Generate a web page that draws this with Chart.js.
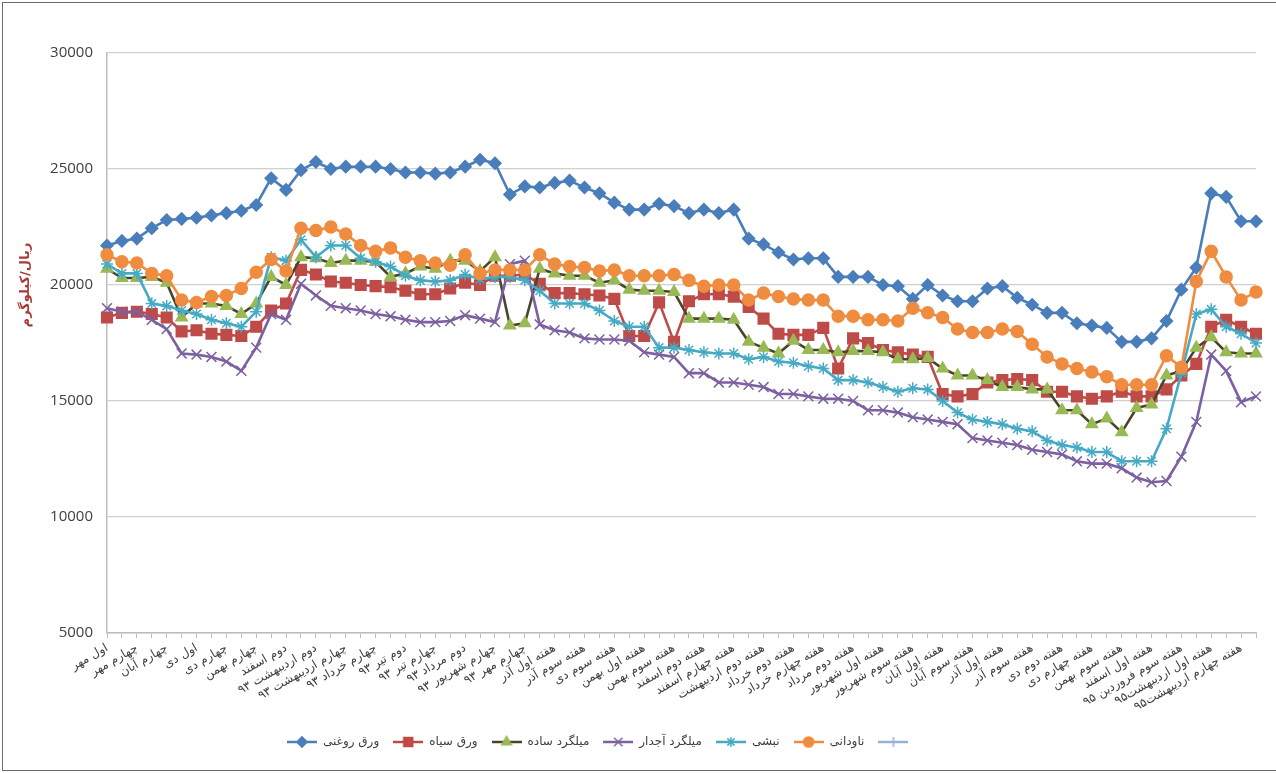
<!DOCTYPE html>
<html>
<head>
<meta charset="utf-8">
<script src="https://cdn.jsdelivr.net/npm/chart.js@4.4.1/dist/chart.umd.min.js"></script>
<style>
  html, body { margin: 0; padding: 0; background: #fff; }
  #wrap  { position: relative; width: 1276px; height: 773px; overflow: hidden; }
  #chart { position: absolute; left: 0; top: 0; }
  #frame { position: absolute; left: 2px; top: 2px; width: 1300px; height: 767px; border: 1px solid #6b6b6b; pointer-events: none; }
</style>
</head>
<body>
<div id="wrap">
  <canvas id="chart" width="1276" height="773"></canvas>
  <div id="frame"></div>
</div>
<script>
// ── داده‌ها ────────────────────────────────────────────────
// برچسب‌های نمایش داده شده (هر دو دسته یکی)
const SHOWN_LABELS = [
  'اول مهر', 'چهارم مهر', 'چهارم آبان', 'اول دی', 'چهارم دی',
  'چهارم بهمن', 'دوم اسفند', 'دوم اردیبهشت ۹۳', 'چهارم اردیبهشت ۹۳',
  'چهارم خرداد ۹۳', 'دوم تیر ۹۳', 'چهارم تیر ۹۳', 'دوم مرداد ۹۳',
  'چهارم شهریور ۹۳', 'چهارم مهر ۹۳', 'هفته اول آذر', 'هفته سوم آذر',
  'هفته سوم دی', 'هفته اول بهمن', 'هفته سوم بهمن', 'هفته دوم اسفند',
  'هفته چهارم اسفند', 'هفته دوم اردیبهشت', 'هفته دوم خرداد', 'هفته چهارم خرداد',
  'هفته دوم مرداد', 'هفته اول شهریور', 'هفته سوم شهریور', 'هفته اول آبان',
  'هفته سوم آبان', 'هفته اول آذر', 'هفته سوم آذر', 'هفته دوم دی',
  'هفته چهارم دی', 'هفته سوم بهمن', 'هفته اول اسفند', 'هفته سوم فروردین ۹۵',
  'هفته اول اردیبهشت۹۵', 'هفته چهارم اردیبهشت۹۵',
];
const N_POINTS = 78;

const WARAQ_ROGHANI = [
  21700, 21900, 22000, 22450, 22800, 22850, 22900, 23000, 23100, 23200,
  23450, 24600, 24100, 24950, 25300, 25000, 25100, 25100, 25100, 25000,
  24850, 24850, 24800, 24850, 25100, 25400, 25250, 23900, 24250, 24200,
  24400, 24500, 24200, 23950, 23550, 23250, 23250, 23500, 23400, 23100,
  23250, 23100, 23250, 22000, 21750, 21400, 21100, 21150, 21150, 20350,
  20350, 20350, 20000, 19950, 19400, 20000, 19550, 19300, 19300, 19850,
  19950, 19450, 19150, 18800, 18800, 18350, 18250, 18150, 17550, 17550,
  17700, 18450, 19800, 20750, 23950, 23800, 22750, 22750,
];
const WARAQ_SIAH = [
  18600, 18800, 18850, 18750, 18600, 18000, 18050, 17900, 17850, 17800,
  18200, 18900, 19200, 20650, 20450, 20150, 20100, 20000, 19950, 19900,
  19750, 19600, 19600, 19850, 20100, 20000, 20400, 20400, 20450, 20050,
  19650, 19650, 19600, 19550, 19400, 17800, 17800, 19250, 17550, 19300,
  19600, 19600, 19500, 19050, 18550, 17900, 17850, 17850, 18150, 16400,
  17700, 17500, 17200, 17100, 17000, 16900, 15300, 15200, 15300, 15800,
  15900, 15950, 15900, 15400, 15400, 15200, 15100, 15200, 15400, 15200,
  15200, 15500, 16100, 16600, 18200, 18500, 18200, 17900,
];
const MILGERD_SADE = [
  20700, 20300, 20300, 20350, 20100, 18600, 19200, 19200, 19100, 18750,
  19200, 20350, 20000, 21200, 21150, 20950, 21050, 21050, 21000, 20350,
  20500, 20800, 20700, 21050, 21050, 20600, 21200, 18250, 18350, 20700,
  20500, 20400, 20400, 20100, 20200, 19800, 19750, 19750, 19700, 18550,
  18550, 18550, 18500, 17550, 17300, 17050, 17600, 17200, 17200, 17100,
  17150, 17150, 17100, 16800, 16800, 16850, 16400, 16100, 16100, 15900,
  15600, 15600, 15500, 15500, 14600, 14600, 14000, 14250, 13650, 14700,
  14850, 16100, 16300, 17300, 17750, 17100, 17050, 17050,
];
const MILGERD_AJDAR = [
  19000, 18850, 18850, 18500, 18100, 17050, 17000, 16900, 16700, 16300,
  17300, 18750, 18500, 20050, 19550, 19100, 19000, 18900, 18750, 18650,
  18500, 18400, 18400, 18450, 18700, 18550, 18400, 20900, 21050, 18300,
  18050, 17950, 17700, 17650, 17650, 17600, 17100, 17000, 16900, 16200,
  16200, 15800, 15800, 15700, 15600, 15300, 15300, 15200, 15100, 15100,
  15000, 14600, 14600, 14500, 14300, 14200, 14100, 14000, 13400, 13300,
  13200, 13100, 12900, 12800, 12700, 12400, 12300, 12300, 12100, 11700,
  11500, 11550, 12600, 14100, 17000, 16300, 14950, 15200,
];
const NABSHI = [
  20900, 20500, 20500, 19200, 19100, 18900, 18750, 18500, 18350, 18200,
  18850, 21200, 21050, 21950, 21200, 21700, 21700, 21150, 21000, 20800,
  20400, 20200, 20150, 20200, 20450, 20250, 20350, 20350, 20200, 19750,
  19200, 19200, 19200, 18900, 18450, 18200, 18200, 17300, 17300, 17200,
  17100, 17050, 17050, 16800, 16900, 16700, 16650, 16500, 16400, 15900,
  15900, 15800, 15600, 15400, 15550, 15500, 15000, 14500, 14200, 14100,
  14000, 13800, 13700, 13300, 13100, 13000, 12800, 12800, 12400, 12400,
  12400, 13800, 16200, 18750, 18950, 18200, 17900, 17500,
];
const NAVDANI = [
  21300, 21000, 20950, 20500, 20400, 19350, 19250, 19500, 19550, 19850,
  20550, 21100, 20600, 22450, 22350, 22500, 22200, 21700, 21450, 21600,
  21200, 21050, 20950, 20850, 21300, 20500, 20650, 20650, 20650, 21300,
  20900, 20800, 20750, 20600, 20650, 20400, 20400, 20400, 20450, 20200,
  19950, 20000, 20000, 19350, 19650, 19500, 19400, 19350, 19350, 18650,
  18650, 18500, 18500, 18450, 19000, 18800, 18600, 18100, 17950, 17950,
  18100, 18000, 17450, 16900, 16600, 16400, 16250, 16050, 15700, 15700,
  15700, 16950, 16450, 20150, 21450, 20350, 19350, 19700,
];
const EMPTY_SERIES = [];

const Y_TITLE = 'ریال/کیلوگرم';
const Y_MIN = 5000, Y_MAX = 30000, Y_STEP = 5000;

// ── سری‌ها ────────────────────────────────────────────────
const SERIES = [
  { label: 'ورق روغنی',     data: WARAQ_ROGHANI, line: '#4a7ebb', mark: '#4a7ebb', style: 'rectRot',  r: 6 },
  { label: 'ورق سیاه',      data: WARAQ_SIAH,    line: '#be4b48', mark: '#be4b48', style: 'rect',     r: 7.5 },
  { label: 'میلگرد ساده',   data: MILGERD_SADE,  line: '#4a452a', mark: '#98b954', style: 'triangle', r: 6.5 },
  { label: 'میلگرد آجدار',  data: MILGERD_AJDAR, line: '#7d60a0', mark: '#7d60a0', style: 'crossRot', r: 7 },
  { label: 'نبشی',          data: NABSHI,        line: '#46aac5', mark: '#46aac5', style: 'star',     r: 6 },
  { label: 'ناودانی',       data: NAVDANI,       line: '#f08c3f', mark: '#f08c3f', style: 'circle',   r: 6 },
  { label: '',              data: EMPTY_SERIES,  line: '#95b3d7', mark: '#95b3d7', style: 'cross',    r: 6 },
];

const CATEGORIES = Array.from({ length: N_POINTS }, (_, i) => (i % 2 === 0 ? SHOWN_LABELS[i / 2] || '' : ''));

const LABEL_FONT = { family: "'DejaVu Sans'", size: 12 };
const NUM_FONT   = { family: "'Open Sans'", size: 15 };
const TEXT_COLOR = '#404040';
const LEGEND_LEFT = 287;

// نمونه خط + نشانگر برای راهنما
function legendSample(s) {
  const c = document.createElement('canvas');
  c.width = 30; c.height = 16;
  const g = c.getContext('2d');
  g.strokeStyle = s.line; g.lineWidth = 2.5;
  g.beginPath(); g.moveTo(0, 8); g.lineTo(30, 8); g.stroke();
  g.fillStyle = s.mark; g.strokeStyle = s.mark; g.lineWidth = 1.5;
  Chart.helpers.drawPoint(g, { pointStyle: s.style, radius: s.r * 0.85, borderWidth: 1.5, rotation: 0 }, 15, 8);
  return c;
}

// عنوان محور عمودی
const yTitle = {
  id: 'yTitle',
  afterDraw(chart) {
    const { ctx, chartArea } = chart;
    ctx.save();
    ctx.translate(26, chartArea.top + (chartArea.bottom - chartArea.top) * 0.4);
    ctx.rotate(-Math.PI / 2);
    ctx.font = "bold 13px 'DejaVu Sans'";
    ctx.fillStyle = '#a83a36';
    ctx.textAlign = 'center';
    ctx.textBaseline = 'middle';
    ctx.fillText(Y_TITLE, 0, 0);
    ctx.restore();
  },
};

// جابه‌جایی راهنما به سمت چپ مانند نمودار اصلی
const legendShift = {
  id: 'legendShift',
  afterLayout(chart) {
    const lg = chart.legend;
    if (!lg || !lg.lineWidths) return;
    const pad = lg.options.labels.padding;
    const x0 = (lg.left + pad + lg.right - lg.lineWidths[0]) / 2;
    const dx = LEGEND_LEFT - x0;
    lg.left += dx; lg.right += dx;
  },
};

const datasets = SERIES.map((s, i) => ({
  label: s.label,
  data: s.data,
  borderColor: s.line,
  backgroundColor: s.mark,
  borderWidth: 2.6,
  tension: 0,
  pointStyle: s.style,
  pointRadius: s.r,
  pointBackgroundColor: s.mark,
  pointBorderColor: s.mark,
  pointBorderWidth: 1.5,
  order: SERIES.length - i,
}));

new Chart(document.getElementById('chart'), {
  type: 'line',
  data: { labels: CATEGORIES, datasets },
  options: {
    responsive: false,
    animation: false,
    layout: { padding: { left: 10, top: 53, right: 20, bottom: 15 } },
    plugins: {
      tooltip: { enabled: false },
      legend: {
        position: 'bottom',
        labels: {
          usePointStyle: true,
          pointStyleWidth: 30,
          boxHeight: 12,
          padding: 14,
          color: TEXT_COLOR,
          font: { family: "'DejaVu Sans'", size: 12 },
          generateLabels: chart => chart.data.datasets.map((ds, i) => ({
            text: ds.label,
            pointStyle: legendSample(SERIES[i]),
            fillStyle: SERIES[i].mark,
            strokeStyle: SERIES[i].line,
            lineWidth: 0,
            hidden: false,
            fontColor: TEXT_COLOR,
            datasetIndex: i,
          })),
        },
      },
    },
    scales: {
      x: {
        offset: false,
        grid: { drawOnChartArea: false, drawTicks: true, tickLength: 5, color: '#bdbdbd', lineWidth: 1 },
        border: { color: '#bdbdbd', width: 1.5 },
        ticks: { autoSkip: false, maxRotation: 30, minRotation: 30, padding: 3, font: LABEL_FONT, color: TEXT_COLOR },
        afterFit: s => { s.height = 89; },
      },
      y: {
        min: Y_MIN, max: Y_MAX,
        grid: { color: '#d0d0d0', lineWidth: 1.3, drawTicks: false },
        border: { color: '#bdbdbd', width: 1.5 },
        ticks: { stepSize: Y_STEP, padding: 14, font: NUM_FONT, color: TEXT_COLOR, callback: v => String(v) },
        afterFit: s => { s.width = 97; },
      },
    },
  },
  plugins: [yTitle, legendShift],
});
</script>
</body>
</html>
